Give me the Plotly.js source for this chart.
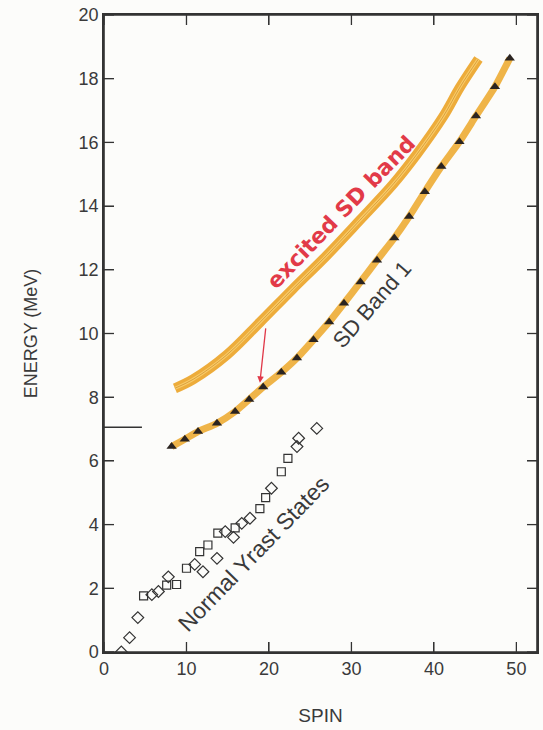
<!DOCTYPE html>
<html>
<head>
<meta charset="utf-8">
<script src="https://cdn.plot.ly/plotly-3.0.1.min.js"></script>
<style>html,body{margin:0;padding:0;background:#fcfcfa;}#chart{width:543px;height:730px;}</style>
</head>
<body>
<div id="chart"></div>
<script>
// SD Band 1 (filled triangles)
var sdSpin = [8.2, 9.8, 11.4, 13.7, 15.9, 17.6, 19.3, 21.5, 23.4, 25.4, 27.3, 29.1, 31.1, 33.1, 35.2, 37.0, 38.9, 40.9, 43.1, 45.1, 47.4, 49.2];
var sdEnergy = [6.45, 6.68, 6.92, 7.18, 7.55, 7.93, 8.32, 8.78, 9.23, 9.80, 10.36, 10.95, 11.62, 12.30, 13.00, 13.67, 14.45, 15.24, 16.02, 16.83, 17.75, 18.64];

// Excited SD band (hand-drawn highlighter stroke)
var exSpin = [8.6, 10.8, 14.9, 18.9, 22.9, 27.0, 31.0, 35.1, 38.0, 41.1, 43.2, 45.4];
var exEnergy = [8.28, 8.56, 9.33, 10.35, 11.40, 12.45, 13.55, 14.70, 15.65, 16.80, 17.75, 18.62];

// Normal yrast states: open squares
var sqSpin = [4.8, 7.6, 8.8, 10.0, 11.6, 12.6, 13.8, 15.9, 18.9, 19.6, 21.5, 22.3];
var sqEnergy = [1.76, 2.10, 2.12, 2.63, 3.15, 3.36, 3.73, 3.90, 4.50, 4.85, 5.66, 6.08];
// Normal yrast states: open diamonds
var dmSpin = [2.1, 3.1, 4.1, 5.8, 6.6, 7.8, 11.0, 12.0, 13.7, 14.7, 15.7, 16.7, 17.7, 20.3, 23.4, 23.6, 25.8];
var dmEnergy = [0.00, 0.45, 1.08, 1.80, 1.90, 2.36, 2.75, 2.52, 2.94, 3.78, 3.60, 4.04, 4.20, 5.14, 6.45, 6.71, 7.02];

// short reference level on the left
var refSpin = [0, 4.6];
var refEnergy = [7.06, 7.06];

var xTicks = [0, 10, 20, 30, 40, 50];
var yTicks = [0, 2, 4, 6, 8, 10, 12, 14, 16, 18, 20];

var xRange = [0, 52.5];
var yRange = [0, 20];

// plot geometry (for converting a 10 px tick length into axis units)
var W = 543, H = 730, M = {l: 104, r: 6, t: 15, b: 78};
var tickPx = 10;
var dxTick = tickPx * (xRange[1] - xRange[0]) / (W - M.l - M.r);
var dyTick = tickPx * (yRange[1] - yRange[0]) / (H - M.t - M.b);

// frame and inside ticks on all four sides, built from the tick arrays
var frameX = [xRange[0], xRange[1], xRange[1], xRange[0], xRange[0]];
var frameY = [yRange[0], yRange[0], yRange[1], yRange[1], yRange[0]];
var tickX = [], tickY = [];
xTicks.forEach(function (t) {
  tickX.push(t, t, null, t, t, null);
  tickY.push(yRange[0], yRange[0] + dyTick, null, yRange[1], yRange[1] - dyTick, null);
});
yTicks.forEach(function (t) {
  tickX.push(xRange[0], xRange[0] + dxTick, null, xRange[1], xRange[1] - dxTick, null);
  tickY.push(t, t, null, t, t, null);
});

var traces = [
  {x: exSpin, y: exEnergy, mode: 'lines', line: {color: 'rgba(236,168,48,0.95)', width: 10, shape: 'spline'}, hoverinfo: 'skip'},
  {x: exSpin, y: exEnergy, mode: 'lines', line: {color: 'rgba(248,206,110,0.9)', width: 3, shape: 'spline'}, hoverinfo: 'skip'},
  {x: exSpin, y: exEnergy, mode: 'lines', line: {color: 'rgba(200,130,30,0.6)', width: 1, shape: 'spline'}, hoverinfo: 'skip'},
  {x: sdSpin, y: sdEnergy, mode: 'lines', line: {color: 'rgba(238,176,62,0.95)', width: 7, shape: 'spline', smoothing: 0.6}, hoverinfo: 'skip'},
  {x: sdSpin, y: sdEnergy, mode: 'markers', marker: {symbol: 'triangle-up', size: 9, color: '#2b2420'}},
  {x: sqSpin, y: sqEnergy, mode: 'markers', marker: {symbol: 'square-open', size: 8, color: '#333', line: {width: 1.2, color: '#333'}}},
  {x: dmSpin, y: dmEnergy, mode: 'markers', marker: {symbol: 'diamond-open', size: 9, color: '#333', line: {width: 1.2, color: '#333'}}},
  {x: refSpin, y: refEnergy, mode: 'lines', line: {color: '#333', width: 1.5}, hoverinfo: 'skip'},
  {x: tickX, y: tickY, mode: 'lines', connectgaps: false, line: {color: '#333', width: 1.3}, hoverinfo: 'skip', cliponaxis: false},
  {x: frameX, y: frameY, mode: 'lines', line: {color: '#333', width: 1.6}, hoverinfo: 'skip', cliponaxis: false}
];

var fontFam = 'Liberation Sans, Arial, sans-serif';
var layout = {
  width: W, height: H,
  margin: M,
  paper_bgcolor: '#fcfcfa', plot_bgcolor: '#fcfcfa',
  showlegend: false,
  font: {family: fontFam, color: '#3a3a3a', size: 18},
  xaxis: {
    range: xRange, tickmode: 'array', tickvals: xTicks,
    ticks: 'inside', ticklen: 10, tickwidth: 1.3, tickcolor: '#333',
    showline: true, linecolor: '#333', linewidth: 1.5, mirror: 'allticks',
    showgrid: false, zeroline: false,
    tickfont: {size: 18, color: '#3a3a3a'},
    title: {text: 'SPIN', font: {size: 19, color: '#3a3a3a'}, standoff: 30}
  },
  yaxis: {
    range: yRange, tickmode: 'array', tickvals: yTicks,
    ticks: 'inside', ticklen: 10, tickwidth: 1.3, tickcolor: '#333',
    showline: true, linecolor: '#333', linewidth: 1.5, mirror: 'allticks',
    showgrid: false, zeroline: false,
    tickfont: {size: 18, color: '#3a3a3a'},
    title: {text: 'ENERGY (MeV)', font: {size: 18, color: '#3a3a3a'}, standoff: 36}
  },
  annotations: [
    {x: 32.5, y: 10.9, xref: 'x', yref: 'y', text: 'SD Band 1', showarrow: false, textangle: -49,
     font: {size: 22, color: '#3a3a3a', family: fontFam}},
    {x: 18.1, y: 3.08, xref: 'x', yref: 'y', text: 'Normal Yrast States', showarrow: false, textangle: -46,
     font: {size: 23, color: '#3a3a3a', family: fontFam}},
    {x: 28.7, y: 13.8, xref: 'x', yref: 'y', text: 'excited SD band', showarrow: false, textangle: -46,
     font: {size: 22, color: '#e23a48', family: 'DejaVu Sans, sans-serif', weight: 'bold'}},
    {x: 18.9, y: 8.45, xref: 'x', yref: 'y', ax: 6, ay: -56, text: '',
     showarrow: true, arrowhead: 2, arrowsize: 1, arrowwidth: 1.3, arrowcolor: '#e03848', standoff: 0}
  ]
};

Plotly.newPlot('chart', traces, layout, {displayModeBar: false});
</script>
</body>
</html>
